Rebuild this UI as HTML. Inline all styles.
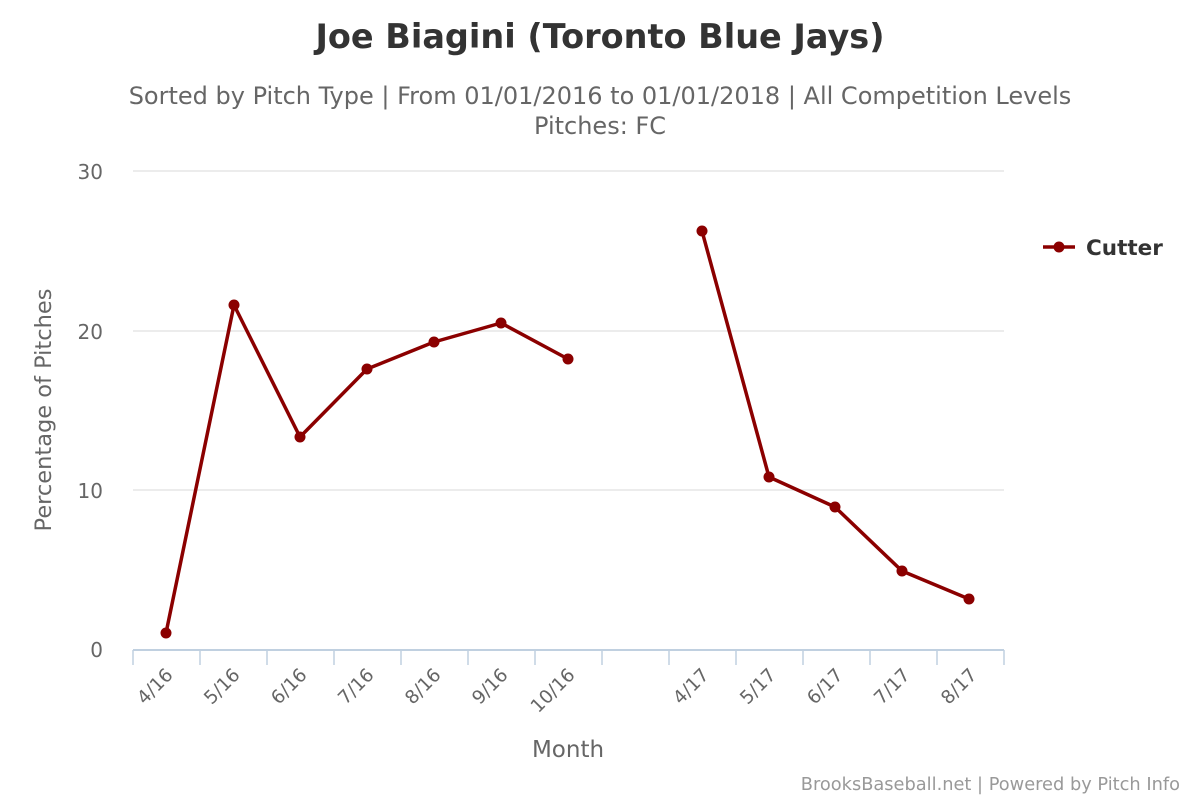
<!DOCTYPE html>
<html><head><meta charset="utf-8"><style>
body{margin:0;background:#fff;}
svg{display:block;font-family:"DejaVu Sans","Liberation Sans",sans-serif;}
</style></head><body>
<svg width="1200" height="800" viewBox="0 0 1200 800">
<rect width="1200" height="800" fill="#fff"/>
<text x="600" y="48" text-anchor="middle" font-size="33.5" font-weight="bold" fill="#333">Joe Biagini (Toronto Blue Jays)</text>
<text x="600" y="104" text-anchor="middle" font-size="24" fill="#666">Sorted by Pitch Type | From 01/01/2016 to 01/01/2018 | All Competition Levels</text>
<text x="600" y="134" text-anchor="middle" font-size="24" fill="#666">Pitches: FC</text>
<g stroke="#e6e6e6" stroke-width="1.5">
<line x1="133" y1="171" x2="1004" y2="171"/>
<line x1="133" y1="331" x2="1004" y2="331"/>
<line x1="133" y1="490" x2="1004" y2="490"/>
</g>
<line x1="133" y1="650" x2="1004" y2="650" stroke="#c0d0e0" stroke-width="2"/>
<g stroke="#c0d0e0" stroke-width="1.5">
<line x1="133" y1="650" x2="133" y2="665"/><line x1="200" y1="650" x2="200" y2="665"/><line x1="267" y1="650" x2="267" y2="665"/><line x1="334" y1="650" x2="334" y2="665"/><line x1="401" y1="650" x2="401" y2="665"/><line x1="468" y1="650" x2="468" y2="665"/><line x1="535" y1="650" x2="535" y2="665"/><line x1="602" y1="650" x2="602" y2="665"/><line x1="669" y1="650" x2="669" y2="665"/><line x1="736" y1="650" x2="736" y2="665"/><line x1="803" y1="650" x2="803" y2="665"/><line x1="870" y1="650" x2="870" y2="665"/><line x1="937" y1="650" x2="937" y2="665"/><line x1="1004" y1="650" x2="1004" y2="665"/>
</g>
<g font-size="20" fill="#666" text-anchor="end">
<text x="103" y="179">30</text><text x="103" y="339">20</text><text x="103" y="498">10</text><text x="103" y="657">0</text>
</g>
<text transform="translate(51,410) rotate(-90)" text-anchor="middle" font-size="22.5" fill="#666">Percentage of Pitches</text>
<g font-size="18.5" fill="#666" text-anchor="end">
<text transform="translate(174,676) rotate(-45)">4/16</text>
<text transform="translate(241,676) rotate(-45)">5/16</text>
<text transform="translate(308,676) rotate(-45)">6/16</text>
<text transform="translate(375,676) rotate(-45)">7/16</text>
<text transform="translate(442,676) rotate(-45)">8/16</text>
<text transform="translate(509,676) rotate(-45)">9/16</text>
<text transform="translate(576,676) rotate(-45)">10/16</text>
<text transform="translate(710,676) rotate(-45)">4/17</text>
<text transform="translate(777,676) rotate(-45)">5/17</text>
<text transform="translate(844,676) rotate(-45)">6/17</text>
<text transform="translate(911,676) rotate(-45)">7/17</text>
<text transform="translate(978,676) rotate(-45)">8/17</text>
</g>
<text x="568" y="757" text-anchor="middle" font-size="23" fill="#666">Month</text>
<g fill="none" stroke="#8b0000" stroke-width="3.5" stroke-linejoin="round">
<polyline points="166,633 234,305 300,437 367,369 434,342 501,323 568,359"/>
<polyline points="702,231 769,477 835,507 902,571 969,599"/>
</g>
<g fill="#8b0000">
<circle cx="166" cy="633" r="5.5"/><circle cx="234" cy="305" r="5.5"/><circle cx="300" cy="437" r="5.5"/><circle cx="367" cy="369" r="5.5"/><circle cx="434" cy="342" r="5.5"/><circle cx="501" cy="323" r="5.5"/><circle cx="568" cy="359" r="5.5"/>
<circle cx="702" cy="231" r="5.5"/><circle cx="769" cy="477" r="5.5"/><circle cx="835" cy="507" r="5.5"/><circle cx="902" cy="571" r="5.5"/><circle cx="969" cy="599" r="5.5"/>
</g>
<line x1="1043" y1="247" x2="1075" y2="247" stroke="#8b0000" stroke-width="3.5"/>
<circle cx="1059" cy="247" r="5.5" fill="#8b0000"/>
<text x="1086" y="255" font-size="21.5" font-weight="bold" fill="#333">Cutter</text>
<text x="1180" y="790" text-anchor="end" font-size="17.8" fill="#999">BrooksBaseball.net | Powered by Pitch Info</text>
</svg>
</body></html>
